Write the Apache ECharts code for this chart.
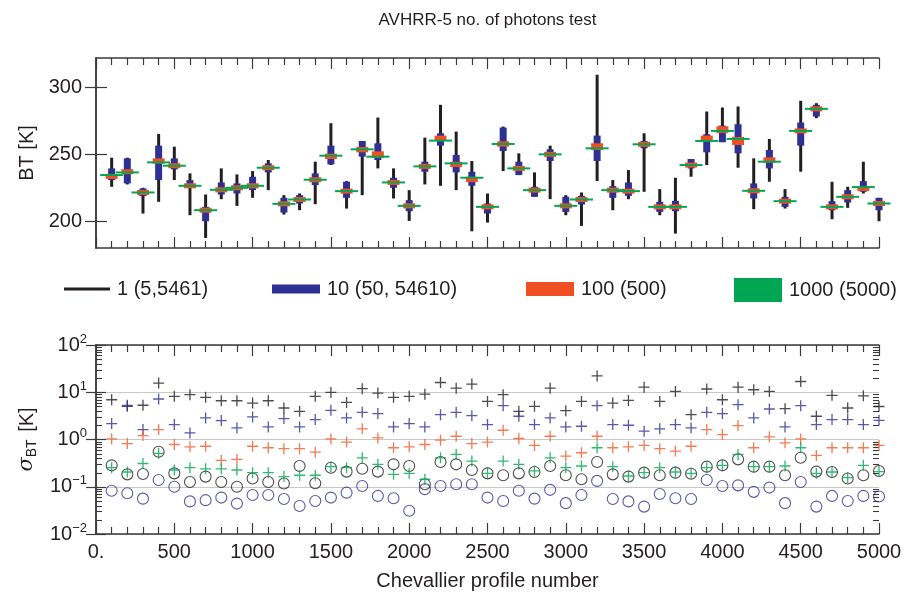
<!DOCTYPE html>
<html>
<head>
<meta charset="utf-8">
<script src="https://cdn.jsdelivr.net/npm/echarts@6/dist/echarts.min.js"></script>
<style>
  html, body { margin: 0; padding: 0; background: #fff; }
  #main { width: 906px; height: 593px; }
</style>
</head>
<body>
<div id="main"></div>
<script>
// Chevallier profile numbers
var profiles = [100, 200, 300, 400, 500, 600, 700, 800, 900, 1000,
  1100, 1200, 1300, 1400, 1500, 1600, 1700, 1800, 1900, 2000,
  2100, 2200, 2300, 2400, 2500, 2600, 2700, 2800, 2900, 3000,
  3100, 3200, 3300, 3400, 3500, 3600, 3700, 3800, 3900, 4000,
  4100, 4200, 4300, 4400, 4500, 4600, 4700, 4800, 4900, 5000];

// top panel: BT ranges [K]
var blackLo = [225.75, 227.5, 205.75, 214.5, 230.75, 204.5, 187.5, 216.5, 211.5, 217.5,
  223.25, 205, 208.25, 212.75, 242, 209.5, 219.5, 239.5, 217, 200.25,
  227.5, 226.5, 223.25, 192.5, 199, 237.5, 234.5, 218.25, 216.5, 204.5,
  196.5, 230, 208.25, 216.5, 222, 204.5, 190.75, 233.25, 242, 259.5,
  240, 209, 229.5, 209.5, 237, 277, 201.5, 210, 220.75, 200];
var blackHi = [247.5, 247.5, 225, 265.25, 255.75, 235.75, 220, 239.5, 235, 237.5,
  245.75, 219.5, 220.75, 244.5, 273.25, 230, 259, 277.5, 239.5, 223.25,
  262.5, 287, 267, 245, 220.75, 270.75, 250.75, 236.5, 256.5, 219.5,
  221.5, 309.5, 230.75, 238.25, 265.75, 224, 232.5, 246.5, 282, 285,
  285.75, 247, 261.5, 224, 290, 288.25, 229.5, 225.75, 244.5, 217.5];
var blueLo = [230.75, 228.25, 218.75, 230.75, 238.75, 225, 200, 220, 220.75, 223.25,
  236.5, 206.5, 213.25, 227, 242.5, 217.5, 248.25, 245.75, 225, 207.5,
  237, 256.5, 236.5, 226.5, 205.75, 252.5, 234.5, 218.25, 245, 207,
  212.5, 245, 217.5, 219, 254.5, 207, 207.5, 239.5, 251.5, 259,
  250.75, 217, 239.5, 210.75, 256.5, 278.25, 208.25, 214, 222, 208.25];
var blueHi = [239.5, 247, 224.5, 256.5, 247, 230.75, 210.75, 229, 228.25, 233.25,
  243.25, 217.5, 219.5, 235.75, 256.5, 229.5, 260, 258.25, 232.5, 215.75,
  244.5, 265.75, 249.5, 237, 213.25, 270, 244.5, 225.75, 253.75, 218.25,
  219, 264, 226.25, 229, 260, 214.5, 215.25, 246.5, 265, 271.5,
  272.5, 228.25, 253.25, 218.25, 273.75, 287, 215, 223.25, 230, 217.5];
var redLo = [232, 235.5, 220, 243, 240, 225, 206.75, 222, 223.5, 225,
  238.5, 211.5, 214.75, 229.5, 246.5, 221, 251.5, 247.25, 227.5, 210,
  239.5, 260, 240.5, 229.25, 209.25, 255.75, 238, 221.75, 248.5, 210,
  214.75, 253.25, 221.75, 221, 256, 209.25, 209.25, 240.5, 260, 266,
  257, 221.25, 243.75, 213.5, 266, 282.5, 209.25, 216.75, 223, 211.75];
var redHi = [235, 238.5, 223, 247, 243, 228, 209.75, 225, 226.5, 228,
  241.5, 214.5, 217.75, 232.5, 250.5, 224, 255.5, 252.25, 230.5, 213,
  242.5, 264, 244.5, 233.25, 212.25, 259.75, 241, 224.75, 251.5, 213,
  217.75, 258.25, 224.75, 224, 259, 212.25, 212.25, 243.5, 264, 271,
  263, 224.25, 247.75, 216.5, 269, 285.5, 212.25, 219.75, 226, 214.75];
var greenMid = [234.5, 236.5, 221.5, 244, 241.5, 226.5, 208.25, 223.5, 225, 226.5,
  240, 213, 216.25, 231, 249, 222.5, 253.75, 248.25, 229, 211.5,
  241, 260.25, 243.25, 232.5, 210.75, 257.75, 239.5, 223.25, 250, 211.5,
  216.25, 254.5, 223.25, 222.5, 257.5, 210.75, 210.75, 242, 260, 267.5,
  261.5, 222.75, 244.5, 215, 267.5, 284, 210.75, 218.25, 225.5, 213.25];

// bottom panel: sigma BT [K]
var sigK = [6.95, 5.03, 5.3, 15.6, 8.2, 8.9, 7.8, 6.6, 6.6, 5.9,
  6.6, 4.64, 3.95, 8.2, 9.9, 6.1, 11.9, 9.6, 7.8, 8.2,
  9.1, 16.1, 12.2, 14.9, 6.4, 8.9, 3.95, 5.03, 12.2, 4.08,
  6.4, 22.2, 5.9, 6.73, 12.8, 6.4, 10.4, 3.36, 11.7, 6.95,
  12.8, 11.3, 10.4, 4.5, 16.9, 3.1, 8.6, 4.64, 8.4, 5.0];
var sigB = [2.17, 5.28, 1.62, 7.2, 2.07, 1.38, 2.86, 2.51, 1.76, 3.0,
  1.85, 2.77, 1.85, 2.64, 4.15, 2.86, 3.76, 3.53, 1.85, 2.17,
  1.85, 3.36, 3.76, 3.2, 2.07, 5.2, 3.1, 2.07, 2.86, 1.85,
  1.91, 5.2, 2.07, 2.0, 1.5, 1.68, 2.07, 1.76, 3.76, 3.53,
  5.45, 2.86, 4.42, 1.85, 5.2, 2.07, 2.64, 2.64, 2.07, 2.55];
var sigR = [1.03, 0.82, 1.21, 1.62, 0.785, 0.70, 0.72, 0.361, 0.38, 0.72,
  0.67, 0.64, 0.64, 0.54, 1.03, 0.88, 1.68, 1.08, 0.67, 0.70,
  0.785, 0.97, 1.17, 0.82, 0.88, 1.57, 1.05, 0.75, 1.17, 0.446,
  0.524, 1.17, 0.67, 0.70, 0.75, 0.64, 0.568, 0.72, 1.62, 1.27,
  1.97, 0.67, 1.14, 0.85, 1.03, 0.46, 0.67, 0.67, 0.67, 0.75];
var sigG = [0.253, 0.205, 0.31, 0.51, 0.226, 0.253, 0.24, 0.24, 0.226, 0.199,
  0.199, 0.164, 0.175, 0.175, 0.266, 0.253, 0.41, 0.298, 0.183, 0.192,
  0.144, 0.41, 0.483, 0.35, 0.192, 0.35, 0.298, 0.216, 0.41, 0.253,
  0.275, 0.67, 0.266, 0.169, 0.199, 0.253, 0.205, 0.192, 0.253, 0.284,
  0.483, 0.266, 0.266, 0.275, 0.67, 0.192, 0.205, 0.156, 0.284, 0.209];
var sigKo = [0.284, 0.183, 0.186, 0.55, 0.192, 0.126, 0.164, 0.126, 0.1, 0.149,
  0.126, 0.117, 0.275, 0.119, 0.253, 0.209, 0.24, 0.209, 0.298, 0.275,
  0.113, 0.333, 0.298, 0.226, 0.192, 0.175, 0.192, 0.205, 0.275, 0.175,
  0.144, 0.333, 0.183, 0.164, 0.199, 0.175, 0.199, 0.189, 0.266, 0.284,
  0.38, 0.266, 0.266, 0.175, 0.41, 0.209, 0.205, 0.149, 0.175, 0.215];
var sigBo = [0.082, 0.073, 0.056, 0.139, 0.1, 0.049, 0.052, 0.059, 0.044, 0.067,
  0.067, 0.055, 0.039, 0.05, 0.059, 0.075, 0.104, 0.064, 0.057, 0.031,
  0.089, 0.104, 0.113, 0.113, 0.059, 0.05, 0.082, 0.056, 0.086, 0.045,
  0.067, 0.133, 0.055, 0.049, 0.038, 0.07, 0.057, 0.055, 0.139, 0.104,
  0.107, 0.078, 0.096, 0.045, 0.126, 0.038, 0.064, 0.05, 0.064, 0.062];

var btTicks = [200, 250, 300];
var logMinor = [0.02, 0.03, 0.04, 0.05, 0.06, 0.07, 0.08, 0.09,
  0.2, 0.3, 0.4, 0.5, 0.6, 0.7, 0.8, 0.9,
  2, 3, 4, 5, 6, 7, 8, 9,
  20, 30, 40, 50, 60, 70, 80, 90];

var cBlack = '#231f20', cBlue = '#2e3192', cRed = '#f04e23', cGreen = '#00a651';
var axisCol = '#3a3a3a';
var font = 'Liberation Sans';
var names = ['1 (5,5461)', '10 (50, 54610)', '100 (500)', '1000 (5000)'];

function rangeData(lo, hi) {
  return profiles.map(function (p, i) { return [p, lo[i], hi[i]]; });
}
function pts(vals) {
  return profiles.map(function (p, i) { return [p, vals[i]]; });
}

// vertical bar of pixel width w, at least h px tall
function barItem(w, h) {
  return function (params, api) {
    var t = api.coord([api.value(0), api.value(2)]);
    var b = api.coord([api.value(0), api.value(1)]);
    var hh = Math.max(b[1] - t[1], h);
    var mid = (t[1] + b[1]) / 2;
    return {
      type: 'rect',
      shape: { x: t[0] - w / 2, y: mid - hh / 2, width: w, height: hh },
      style: { fill: api.visual('color') }
    };
  };
}

var plusSym = 'path://M4.4,0H5.6V4.4H10V5.6H5.6V10H4.4V5.6H0V4.4H4.4Z';

function xAx(grid, pos, labels) {
  return {
    type: 'value', gridIndex: grid, position: pos, min: 0, max: 5000, interval: 500,
    axisLine: { show: true, onZero: false, lineStyle: { color: axisCol, width: 1.5 } },
    axisTick: { show: true, inside: true, length: 11, lineStyle: { color: axisCol, width: 1.2 } },
    minorTick: { show: true, splitNumber: 5, length: 7, lineStyle: { color: axisCol, width: 1.2 } },
    splitLine: { show: false },
    axisLabel: {
      show: labels, fontSize: 20, fontFamily: font, color: cBlack, margin: 8,
      formatter: function (v) { return v === 0 ? '0.' : String(v); }
    }
  };
}

function supLabel(v) {
  var e = Math.round(Math.log(v) / Math.LN10);
  return '{b|10}{s|' + (e < 0 ? '\u2212' + (-e) : e) + '}';
}

var option = {
  animation: false,
  backgroundColor: '#fff',
  textStyle: { fontFamily: font },
  grid: [
    { left: 96, right: 27, top: 58, height: 190 },
    { left: 96, right: 27, top: 345, height: 189 }
  ],
  legend: [
    { data: [names[0]], left: 59, top: 274, icon: 'rect', itemWidth: 46, itemHeight: 3 },
    { data: [names[1]], left: 267, top: 274, icon: 'rect', itemWidth: 48, itemHeight: 9 },
    { data: [names[2]], left: 521, top: 274, icon: 'rect', itemWidth: 48, itemHeight: 14 },
    { data: [names[3]], left: 729, top: 273, icon: 'rect', itemWidth: 48, itemHeight: 24 }
  ].map(function (l) {
    l.itemGap = 0;
    l.selectedMode = false;
    l.textStyle = { fontSize: 20, color: cBlack, fontFamily: font, padding: [0, 0, 0, 2] };
    return l;
  }),
  xAxis: [
    xAx(0, 'bottom', false),
    xAx(0, 'top', false),
    Object.assign(xAx(1, 'bottom', true), {
      name: 'Chevallier profile number', nameLocation: 'middle', nameGap: 37,
      nameTextStyle: { fontSize: 20, color: cBlack, fontFamily: font }
    }),
    xAx(1, 'top', false)
  ],
  yAxis: [
    {
      type: 'value', gridIndex: 0, position: 'left', min: 180, max: 322,
      name: 'BT [K]', nameLocation: 'middle', nameGap: 58, nameRotate: 90,
      nameTextStyle: { fontSize: 20, color: cBlack, fontFamily: font },
      axisLine: { show: true, lineStyle: { color: axisCol, width: 1.5 } },
      axisTick: { show: true, inside: true, length: 11, customValues: btTicks, lineStyle: { color: axisCol, width: 1.2 } },
      axisLabel: { fontSize: 20, color: cBlack, fontFamily: font, margin: 14, customValues: btTicks },
      splitLine: { show: false }
    },
    {
      type: 'value', gridIndex: 0, position: 'right', min: 180, max: 322,
      axisLine: { show: true, lineStyle: { color: axisCol, width: 1.5 } },
      axisTick: { show: true, inside: true, length: 11, customValues: btTicks, lineStyle: { color: axisCol, width: 1.2 } },
      axisLabel: { show: false },
      splitLine: { show: false }
    },
    {
      type: 'log', logBase: 10, gridIndex: 1, position: 'left', min: 0.01, max: 100,
      name: '{i|\u03c3}{s|BT} [K]', nameLocation: 'middle', nameGap: 52, nameRotate: 90,
      nameTextStyle: {
        fontSize: 20, color: cBlack, fontFamily: font,
        rich: {
          i: { fontSize: 21, fontStyle: 'italic', fontFamily: 'DejaVu Serif', color: cBlack },
          s: { fontSize: 14, color: cBlack, fontFamily: font, verticalAlign: 'bottom', padding: [10, 2, 0, 0] }
        }
      },
      axisLine: { show: true, lineStyle: { color: axisCol, width: 1.5 } },
      axisTick: { show: true, inside: true, length: 10, lineStyle: { color: axisCol, width: 1.2 } },
      axisLabel: {
        formatter: supLabel, margin: 9,
        rich: {
          b: { fontSize: 20, color: cBlack, fontFamily: font },
          s: { fontSize: 13, color: cBlack, fontFamily: font, verticalAlign: 'top', padding: [0, 0, 12, 0] }
        }
      },
      splitLine: { show: true, lineStyle: { color: '#c8c8c8', width: 1 } }
    },
    {
      type: 'log', logBase: 10, gridIndex: 1, position: 'right', min: 0.01, max: 100,
      axisLine: { show: true, lineStyle: { color: axisCol, width: 1.5 } },
      axisTick: { show: true, inside: true, length: 10, lineStyle: { color: axisCol, width: 1.2 } },
      axisLabel: { show: false },
      splitLine: { show: false }
    }
  ],
  series: [
    { name: names[0], type: 'custom', xAxisIndex: 0, yAxisIndex: 0, itemStyle: { color: cBlack },
      renderItem: barItem(3, 1), data: rangeData(blackLo, blackHi), z: 2 },
    { name: names[1], type: 'custom', xAxisIndex: 0, yAxisIndex: 0, itemStyle: { color: cBlue },
      renderItem: barItem(7, 2), data: rangeData(blueLo, blueHi), z: 3 },
    { name: names[2], type: 'custom', xAxisIndex: 0, yAxisIndex: 0, itemStyle: { color: cRed },
      renderItem: barItem(12, 5), data: rangeData(redLo, redHi), z: 4 },
    { name: names[3], type: 'custom', xAxisIndex: 0, yAxisIndex: 0, itemStyle: { color: cGreen },
      renderItem: barItem(23, 2), data: rangeData(greenMid, greenMid), z: 5 },

    { name: 'sigma 1 circ', type: 'scatter', xAxisIndex: 2, yAxisIndex: 2, data: pts(sigKo),
      symbol: 'circle', symbolSize: 11,
      itemStyle: { color: 'rgba(0,0,0,0)', borderColor: cBlack, borderWidth: 1.1 } },
    { name: 'sigma 10 circ', type: 'scatter', xAxisIndex: 2, yAxisIndex: 2, data: pts(sigBo),
      symbol: 'circle', symbolSize: 11,
      itemStyle: { color: 'rgba(0,0,0,0)', borderColor: cBlue, borderWidth: 1.1 } },
    { name: 'sigma 1', type: 'scatter', xAxisIndex: 2, yAxisIndex: 2, data: pts(sigK),
      symbol: plusSym, symbolSize: 11, itemStyle: { color: cBlack } },
    { name: 'sigma 10', type: 'scatter', xAxisIndex: 2, yAxisIndex: 2, data: pts(sigB),
      symbol: plusSym, symbolSize: 11, itemStyle: { color: cBlue } },
    { name: 'sigma 100', type: 'scatter', xAxisIndex: 2, yAxisIndex: 2, data: pts(sigR),
      symbol: plusSym, symbolSize: 11, itemStyle: { color: '#f15a29' } },
    { name: 'sigma 1000', type: 'scatter', xAxisIndex: 2, yAxisIndex: 2, data: pts(sigG),
      symbol: plusSym, symbolSize: 11, itemStyle: { color: cGreen } }
  ]
};

var chart = echarts.init(document.getElementById('main'), null, { renderer: 'canvas' });
chart.setOption(option);

// title + minor log ticks on both sides of the lower panel
var xl = chart.convertToPixel({ xAxisIndex: 2 }, 0);
var xr = chart.convertToPixel({ xAxisIndex: 2 }, 5000);
var gfx = [{
  type: 'text', x: (xl + xr) / 2, y: 20,
  style: { text: 'AVHRR-5 no. of photons test', fill: cBlack, font: '17px "Liberation Sans"', textAlign: 'center', textVerticalAlign: 'middle' }
}];
logMinor.forEach(function (v) {
  var y = Math.round(chart.convertToPixel({ yAxisIndex: 2 }, v)) + 0.5;
  gfx.push({ type: 'line', shape: { x1: xl, y1: y, x2: xl + 6, y2: y }, style: { stroke: axisCol, lineWidth: 1.1 } });
  gfx.push({ type: 'line', shape: { x1: xr - 6, y1: y, x2: xr, y2: y }, style: { stroke: axisCol, lineWidth: 1.1 } });
});
chart.setOption({ graphic: gfx });
</script>
</body>
</html>
